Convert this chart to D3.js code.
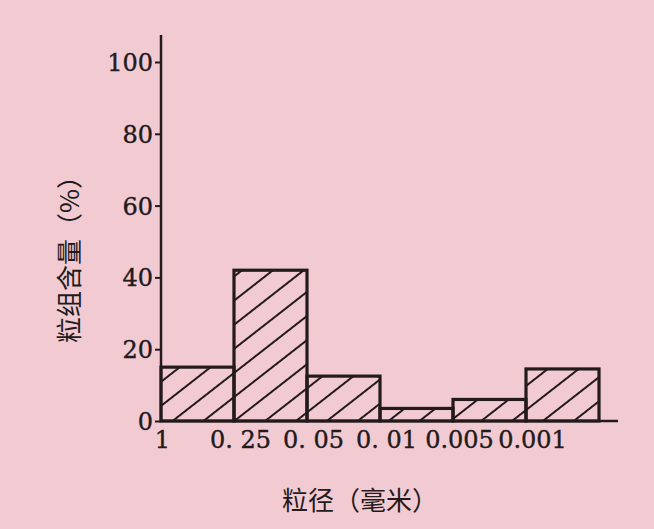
<!DOCTYPE html>
<html><head><meta charset="utf-8">
<script src="https://cdn.jsdelivr.net/npm/d3@7"></script>
<style>html,body{margin:0;padding:0;background:#f2cbd2;}svg{display:block;}</style>
</head><body>
<script>
const boundaryLabels = ["1", "0. 25", "0. 05", "0. 01", "0.005", "0.001"];
const binValues = [15, 42, 12.5, 3.5, 6, 14.5];
const yTicks = [0, 20, 40, 60, 80, 100];
const yTitle = "粒组含量（%）";
const xTitle = "粒径（毫米）";

const W = 654, H = 529, ink = "#231a1c";
const svg = d3.select("body").append("svg").attr("width", W).attr("height", H);
svg.append("rect").attr("width", W).attr("height", H).attr("fill", "#f2cbd2");

const defs = svg.append("defs");
const pat = defs.append("pattern").attr("id", "hatch").attr("patternUnits", "userSpaceOnUse")
  .attr("width", 40).attr("height", 19).attr("patternTransform", "rotate(-38)");
pat.append("line").attr("x1", 0).attr("x2", 40).attr("y1", 1).attr("y2", 1)
  .attr("stroke", ink).attr("stroke-width", 1.8);

const x = d3.scaleLinear().domain([0, 6]).range([161, 599]);
const y = d3.scaleLinear().domain([0, 100]).range([421, 62]);

// bars
svg.append("g").selectAll("rect").data(binValues).join("rect")
  .attr("x", (d, i) => x(i)).attr("width", (d, i) => x(i + 1) - x(i))
  .attr("y", d => y(d)).attr("height", d => y(0) - y(d))
  .attr("fill", "url(#hatch)").attr("stroke", ink).attr("stroke-width", 3.2);

// y axis
const yAxis = svg.append("g").attr("transform", `translate(${x(0)},0)`)
  .call(d3.axisLeft(y).tickValues(yTicks).tickSize(6).tickPadding(2).tickSizeOuter(0));
yAxis.select(".domain").remove();
yAxis.append("line").attr("x1", 0).attr("x2", 0).attr("y1", 35).attr("y2", y(0) + 1)
  .attr("stroke", ink).attr("stroke-width", 2.5);
yAxis.selectAll(".tick line").attr("stroke", ink).attr("stroke-width", 2);
yAxis.selectAll(".tick text").attr("fill", ink).attr("font-family", "DejaVu Serif")
  .attr("font-size", 24).attr("dy", "0.35em").attr("stroke", ink).attr("stroke-width", 0.4);

// x axis baseline
svg.append("line").attr("x1", x(0)).attr("x2", x(6.26)).attr("y1", y(0)).attr("y2", y(0))
  .attr("stroke", ink).attr("stroke-width", 2.5);

const xAxis = svg.append("g").attr("transform", `translate(0,${y(0)})`)
  .call(d3.axisBottom(x).tickValues(d3.range(boundaryLabels.length))
    .tickFormat(i => boundaryLabels[i]).tickSize(0).tickPadding(10));
xAxis.select(".domain").remove();
xAxis.selectAll(".tick text").attr("fill", ink).attr("font-family", "DejaVu Serif")
  .attr("font-size", 24).attr("dx", (d, i) => i === 0 ? 1 : 6)
  .attr("stroke", ink).attr("stroke-width", 0.4);

// titles
svg.append("text").attr("transform", "translate(79,253) rotate(-90)")
  .attr("text-anchor", "middle").attr("fill", ink)
  .attr("font-family", "Noto Sans CJK SC").attr("font-size", 26).text(yTitle);
svg.append("text").attr("x", 360).attr("y", 510).attr("text-anchor", "middle").attr("fill", ink)
  .attr("font-family", "Noto Sans CJK SC").attr("font-size", 26).text(xTitle);
</script>
</body></html>
